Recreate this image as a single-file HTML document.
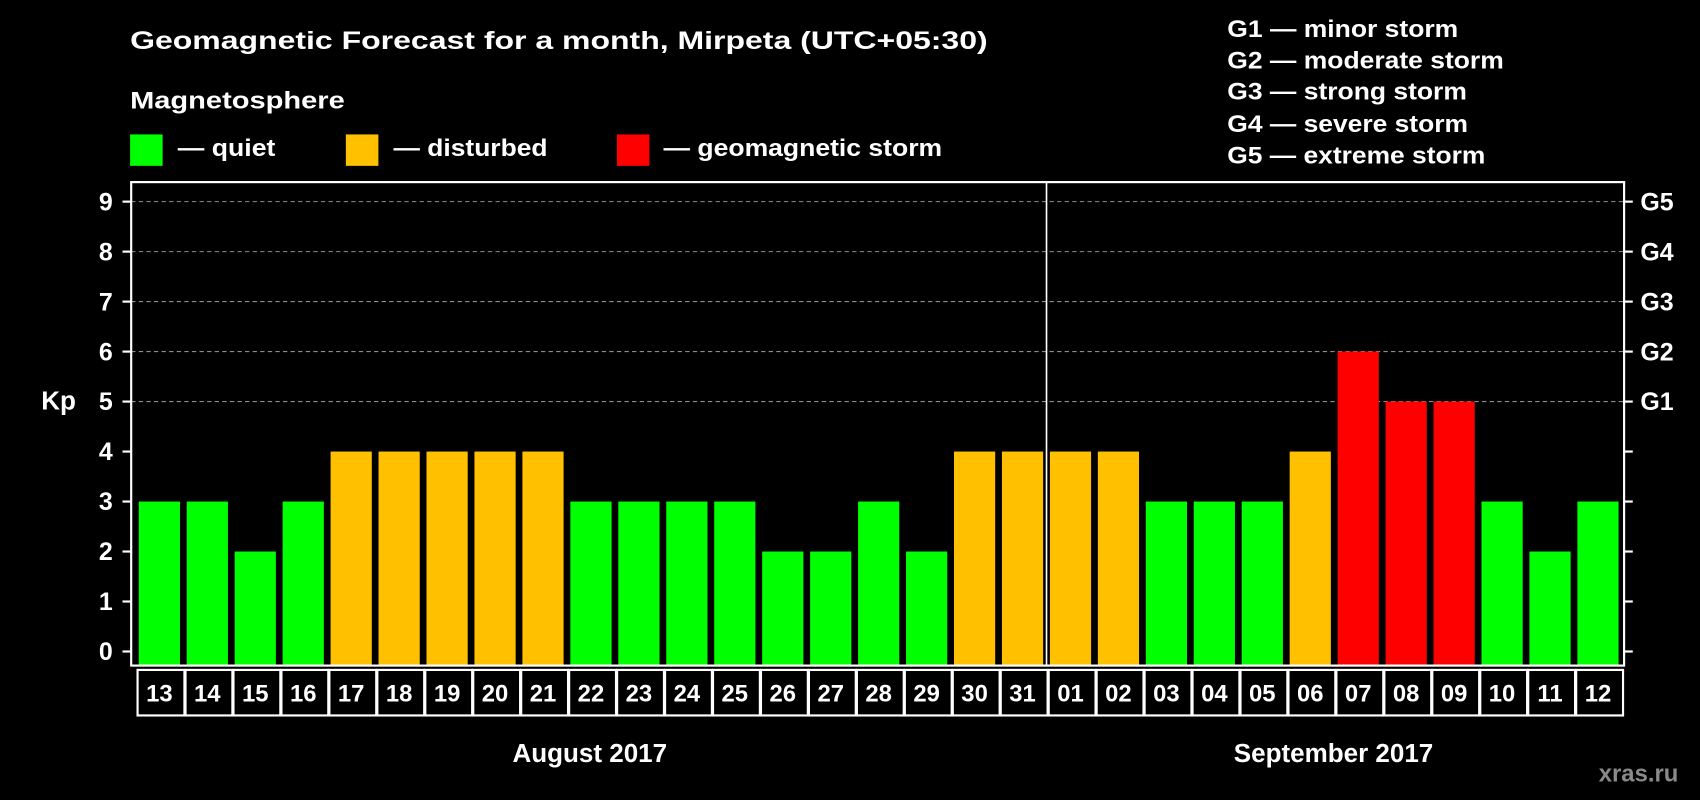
<!DOCTYPE html>
<html><head><meta charset="utf-8">
<style>
html,body{margin:0;padding:0;background:#000;}
svg{display:block;}
text{font-family:"Liberation Sans",sans-serif;font-weight:bold;fill:#fff;}
</style></head>
<body>
<svg id="chart" width="1700" height="800" viewBox="0 0 1568 738" preserveAspectRatio="none" xmlns="http://www.w3.org/2000/svg">
<rect x="0" y="0" width="1568" height="738" fill="#000"/>
<text x="120" y="45" font-size="23" textLength="791" lengthAdjust="spacingAndGlyphs">Geomagnetic Forecast for a month, Mirpeta (UTC+05:30)</text>
<text x="120" y="100" font-size="22" textLength="198" lengthAdjust="spacingAndGlyphs">Magnetosphere</text>
<g>
<rect x="120" y="124" width="30" height="29" fill="#00ff00"/>
<text x="164" y="144" font-size="22" textLength="90" lengthAdjust="spacingAndGlyphs">— quiet</text></g>
<g>
<rect x="319" y="124" width="30" height="29" fill="#ffc000"/>
<text x="363" y="144" font-size="22" textLength="142" lengthAdjust="spacingAndGlyphs">— disturbed</text></g>
<g>
<rect x="569" y="124" width="30" height="29" fill="#ff0000"/>
<text x="612" y="144" font-size="22" textLength="257" lengthAdjust="spacingAndGlyphs">— geomagnetic storm</text></g>
<g>
<text x="1132" y="34" font-size="22" textLength="213" lengthAdjust="spacingAndGlyphs">G1 — minor storm</text>
<text x="1132" y="63" font-size="22" textLength="255" lengthAdjust="spacingAndGlyphs">G2 — moderate storm</text>
<text x="1132" y="92" font-size="22" textLength="221" lengthAdjust="spacingAndGlyphs">G3 — strong storm</text>
<text x="1132" y="122" font-size="22" textLength="222" lengthAdjust="spacingAndGlyphs">G4 — severe storm</text>
<text x="1132" y="151" font-size="22" textLength="238" lengthAdjust="spacingAndGlyphs">G5 — extreme storm</text>
</g>
<g id="grid"></g>
<g id="bars"></g>
<g id="axes"></g>
<text x="38" y="378" font-size="24">Kp</text>
<text x="544" y="703" font-size="24" text-anchor="middle">August 2017</text>
<text x="1230" y="703" font-size="24" text-anchor="middle">September 2017</text>
<text x="1548" y="721" font-size="22" text-anchor="end" style="fill:#8a8a8a">xras.ru</text>
</svg>
<script>
const days = ["13","14","15","16","17","18","19","20","21","22","23","24","25","26","27","28","29","30","31","01","02","03","04","05","06","07","08","09","10","11","12"];
const kpValues = [3,3,2,3,4,4,4,4,4,3,3,3,3,2,2,3,2,4,4,4,4,3,3,3,4,6,5,5,3,2,3];
const yTicks = [0,1,2,3,4,5,6,7,8,9];
const gLabels = ["G1","G2","G3","G4","G5"];
const gLevels = [5,6,7,8,9];

const NS = "http://www.w3.org/2000/svg";
const L = 121, R = 1498, T = 168, B = 614;
const firstCenter = 147, pitch = 44.23, barW = 38;
function xC(i){ return firstCenter + i * pitch; }
function yS(v){ return 601 - v * 46.11; }
function mk(tag, attrs, parent){
  const e = document.createElementNS(NS, tag);
  for (const k in attrs) e.setAttribute(k, attrs[k]);
  parent.appendChild(e);
  return e;
}
function colorFor(v){ return v >= 5 ? "#ff0000" : (v >= 4 ? "#ffc000" : "#00ff00"); }

const grid = document.getElementById("grid");
const bars = document.getElementById("bars");
const axes = document.getElementById("axes");

gLevels.forEach(function(v){
  const ln = mk("line", {x1:L, x2:R, y1:yS(v), y2:yS(v), stroke:"#8c8c8c", "stroke-width":1, "stroke-dasharray":"4,3"}, grid);
  
  
});

kpValues.forEach(function(v, i){
  const r = mk("rect", {x:xC(i)-barW/2, y:yS(v), width:barW, height:B-yS(v), fill:colorFor(v)}, bars);
  
  
});

const frame = mk("rect", {x:L, y:T, width:R-L, height:B-T, fill:"none", stroke:"#fff", "stroke-width":2}, axes);


const idxSep = days.indexOf("01");
const sep = mk("line", {x1:xC(idxSep)-pitch/2, x2:xC(idxSep)-pitch/2, y1:T, y2:B, stroke:"#fff", "stroke-width":1.5}, axes);



yTicks.forEach(function(v){
  const t1 = mk("line", {x1:L-8, x2:L, y1:yS(v), y2:yS(v), stroke:"#fff", "stroke-width":2}, axes);
  
  
  const t2 = mk("line", {x1:R, x2:R+8, y1:yS(v), y2:yS(v), stroke:"#fff", "stroke-width":2}, axes);
  
  
  const lb = mk("text", {x:104, y:yS(v)+8, "font-size":23, "text-anchor":"end"}, axes);
  lb.textContent = String(v);
  
  
});

gLabels.forEach(function(g, i){
  const lb = mk("text", {x:1513, y:yS(gLevels[i])+8, "font-size":23}, axes);
  lb.textContent = g;
  
  
});

days.forEach(function(d, i){
  const bx = mk("rect", {x:xC(i)-pitch/2+2, y:618, width:pitch-1, height:42, fill:"none", stroke:"#fff", "stroke-width":2}, axes);
  
  
  const tx = mk("text", {x:xC(i), y:647, "font-size":22, "text-anchor":"middle"}, axes);
  tx.textContent = d;
  
  
});
</script>
</body></html>
